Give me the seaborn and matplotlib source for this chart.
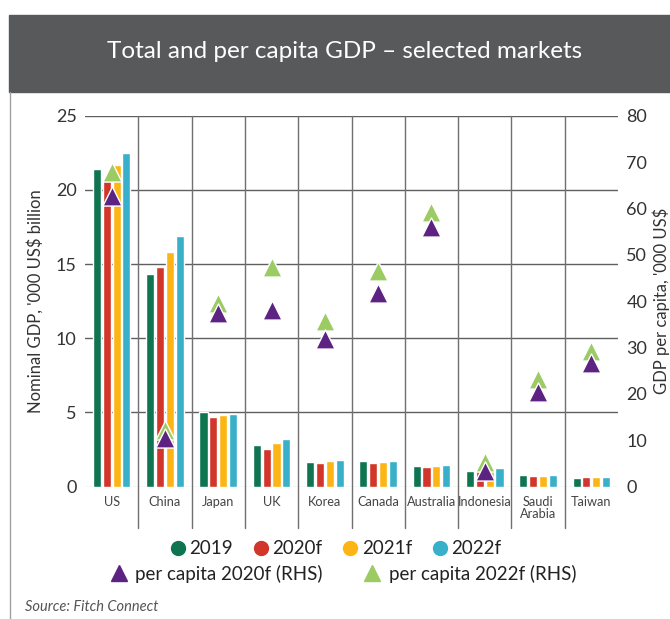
import numpy as np
import pandas as pd
import matplotlib
matplotlib.use('Agg')
import matplotlib.pyplot as plt
import seaborn as sns
from matplotlib.lines import Line2D
from matplotlib.patches import Rectangle

# values
markets = ['US', 'China', 'Japan', 'UK', 'Korea', 'Canada', 'Australia',
           'Indonesia', 'Saudi\nArabia', 'Taiwan']
years = ['2019', '2020f', '2021f', '2022f']
gdp_2019 = [21.4, 14.3, 5.05, 2.81, 1.66, 1.73, 1.39, 1.08, 0.79, 0.61]
gdp_2020f = [20.6, 14.8, 4.67, 2.56, 1.58, 1.58, 1.35, 1.06, 0.70, 0.63]
gdp_2021f = [21.7, 15.8, 4.83, 2.94, 1.73, 1.66, 1.42, 1.10, 0.74, 0.65]
gdp_2022f = [22.5, 16.9, 4.92, 3.21, 1.82, 1.75, 1.46, 1.27, 0.79, 0.67]
pc_2020f = [62.7, 10.4, 37.4, 38.0, 31.9, 41.8, 55.9, 3.4, 20.5, 26.7]
pc_2022f = [67.9, 12.2, 39.7, 47.3, 35.8, 46.5, 59.3, 5.4, 23.2, 29.3]

bar_colors = ['#0f7550', '#d2362a', '#fdb515', '#38b0c9']
purple = '#5c2383'
lgreen = '#9ccb64'

sns.set_theme(style='white')
plt.rcParams['font.family'] = ['Lato', 'DejaVu Sans']

df = pd.DataFrame({
    'market': markets * 4,
    'year': np.repeat(years, len(markets)),
    'gdp': gdp_2019 + gdp_2020f + gdp_2021f + gdp_2022f,
})

fig = plt.figure(figsize=(6.7, 6.19), dpi=100)
ax = fig.add_axes([85 / 670, 1 - 486.7 / 619, 533 / 670, 371 / 619])

sns.barplot(data=df, x='market', y='gdp', hue='year', palette=bar_colors,
            width=0.74, gap=0.18, saturation=1, legend=False, ax=ax, zorder=3)

ax.set_xlim(-0.5, len(markets) - 0.5)
ax.set_ylim(0, 25)
ax.set_yticks(range(0, 26, 5))
for v in range(5, 26, 5):
    ax.axhline(v, color='#5f5f5f', lw=1, zorder=1)
ax.axhline(0, color='#d4d4d4', lw=1, zorder=1)
# separators between markets, running down through the labels
for i in range(len(markets) - 1):
    ax.plot([i + 0.5, i + 0.5], [-0.112, 1], transform=ax.get_xaxis_transform(),
            color='#707070', lw=1, clip_on=False, zorder=1)
for s in ax.spines.values():
    s.set_visible(False)
ax.set_xlabel('')
ax.set_ylabel("Nominal GDP, '000 US$ billion", fontsize=12, color='#333333')
ax.yaxis.set_label_coords(-41 / 533, 0.5)
ax.tick_params(axis='y', length=0, labelsize=13, colors='#333333', pad=6)
ax.tick_params(axis='x', length=0, labelsize=9.2, colors='#444444', pad=7)
for lab in ax.get_xticklabels():
    lab.set_linespacing(0.95)
    lab.set_va('top')

ax2 = ax.twinx()
sns.scatterplot(x=np.arange(len(markets)), y=pc_2022f, marker='^', s=190, color=lgreen,
                edgecolor='white', linewidth=1, ax=ax2, zorder=4)
sns.scatterplot(x=np.arange(len(markets)), y=pc_2020f, marker='^', s=190, color=purple,
                edgecolor='white', linewidth=1, ax=ax2, zorder=5)
ax2.set_ylim(0, 80)
ax2.set_yticks(range(0, 81, 10))
ax2.set_xlim(-0.5, len(markets) - 0.5)
for s in ax2.spines.values():
    s.set_visible(False)
ax2.grid(False)
ax2.set_ylabel("GDP per capita, '000 US$", fontsize=12, color='#333333')
ax2.yaxis.set_label_coords(1 + 34 / 533, 0.5)
ax2.tick_params(axis='y', length=0, labelsize=13, colors='#333333', pad=6)

# header band and left border
fig.add_artist(Rectangle((9 / 670, 1 - 92 / 619), 1 - 9 / 670, 77 / 619,
                         transform=fig.transFigure, color='#58595b', zorder=0))
fig.text(0.515, 1 - 51 / 619, 'Total and per capita GDP \u2013 selected markets',
         color='white', fontsize=17.5, ha='center', va='center')
fig.add_artist(Line2D([9.5 / 670, 9.5 / 670], [0, 1 - 92 / 619],
                      transform=fig.transFigure, color='#a0a0a0', lw=1))

# legends
h1 = [Line2D([], [], marker='o', ls='', color=c, markersize=10) for c in bar_colors]
leg1 = fig.legend(h1, years, loc='center', bbox_to_anchor=(0.5, 1 - 549 / 619), ncol=4,
                  frameon=False, fontsize=13.5, handletextpad=0.1, columnspacing=1.0,
                  handlelength=1.0)
h2 = [Line2D([], [], marker='^', ls='', color=purple, markersize=12),
      Line2D([], [], marker='^', ls='', color=lgreen, markersize=12)]
leg2 = fig.legend(h2, ['per capita 2020f (RHS)', 'per capita 2022f (RHS)'], loc='center',
                  bbox_to_anchor=(0.51, 1 - 574 / 619), ncol=2, frameon=False, fontsize=13.5,
                  handletextpad=0.3, columnspacing=2.0, handlelength=1.2)
for t in leg1.get_texts() + leg2.get_texts():
    t.set_color('#222222')

fig.text(25 / 670, 1 - 607 / 619, 'Source: Fitch Connect', fontsize=10.5,
         style='italic', color='#555555', ha='left', va='center')

fig.savefig('out.png', dpi=100)
